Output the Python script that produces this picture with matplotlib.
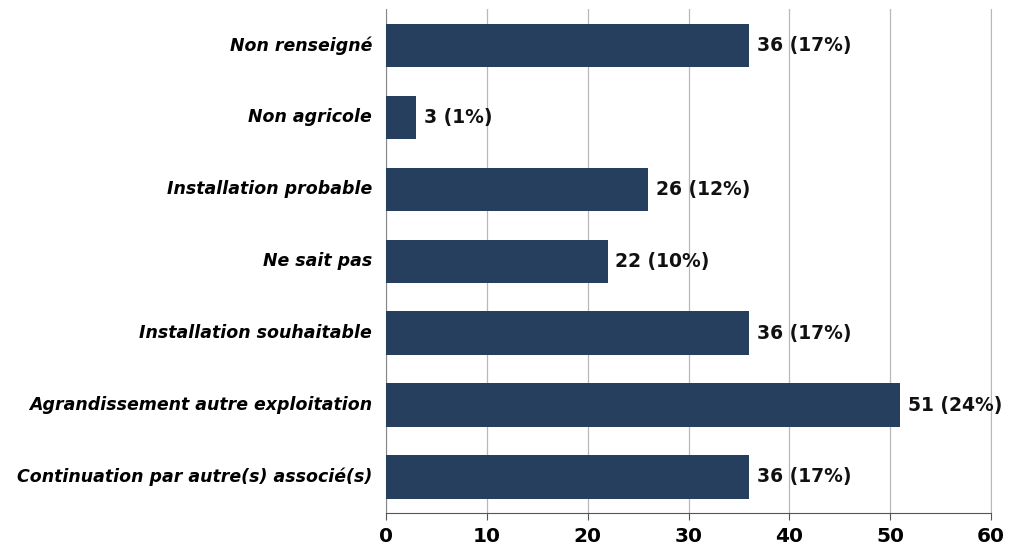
import numpy as np
import matplotlib
matplotlib.use("Agg")
import matplotlib.pyplot as plt

# data, top to bottom as in the picture
categories = ["Non renseigné", "Non agricole", "Installation probable", "Ne sait pas",
              "Installation souhaitable", "Agrandissement autre exploitation",
              "Continuation par autre(s) associé(s)"]
counts = [36, 3, 26, 22, 36, 51, 36]
percents = [17, 1, 12, 10, 17, 24, 17]
xticks = [0, 10, 20, 30, 40, 50, 60]

bar_color = "#263f5f"
grid_color = "#b8b8b8"

fig = plt.figure(figsize=(10.17, 5.48), dpi=100)
ax = fig.add_axes([0.3795, 0.064, 0.595, 0.919])

ypos = np.arange(len(categories))
ax.barh(ypos, counts, height=0.6, color=bar_color, zorder=3)

for y, c, p in zip(ypos, counts, percents):
    ax.text(c + 0.75, y, "%d (%d%%)" % (c, p), va="center", ha="left",
            fontsize=13.5, fontweight="bold", color="#111111")

ax.set_yticks(ypos)
ax.set_yticklabels(categories, fontsize=12.5, fontweight="bold", style="italic",
                   va="center")
ax.set_ylim(len(categories) - 0.5, -0.5)
ax.set_xlim(0, 60)
ax.set_xticks(xticks)
ax.set_xticklabels([str(t) for t in xticks], fontsize=14.5, fontweight="bold")

ax.grid(axis="x", color=grid_color, linewidth=0.9, zorder=0)
ax.spines["top"].set_visible(False)
ax.spines["right"].set_color(grid_color)
ax.spines["left"].set_color("#888888")
ax.spines["bottom"].set_color("#555555")
ax.tick_params(axis="y", length=0, pad=10)
ax.tick_params(axis="x", length=5, color="#555555", pad=5)

fig.savefig("out.png", dpi=100)
